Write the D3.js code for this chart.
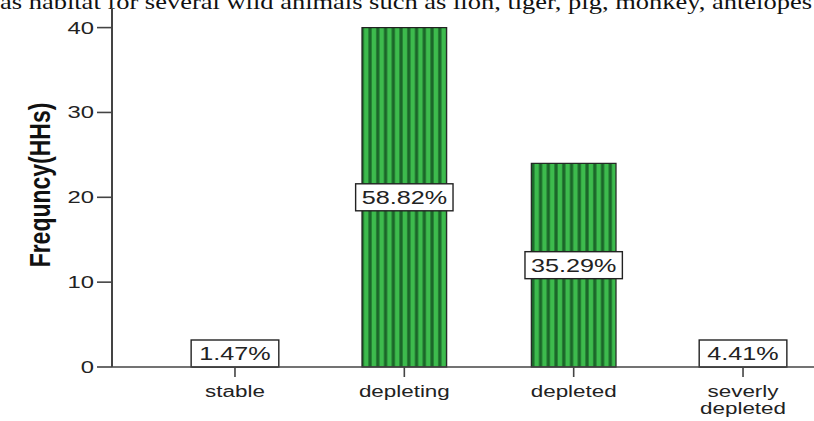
<!DOCTYPE html>
<html><head><meta charset="utf-8">
<script src="https://cdn.jsdelivr.net/npm/d3@7"></script>
<style>body{margin:0;background:#fff}svg{display:block}</style>
</head><body>
<script>
const categories = ["stable", "depleting", "depleted", "severly depleted"];
const counts = [1, 40, 24, 3];
const percentLabels = ["1.47%", "58.82%", "35.29%", "4.41%"];
const yTicks = [0, 10, 20, 30, 40];
const yTitle = "Frequncy(HHs)";
const topText = "as habitat for several wild animals such as lion, tiger, pig, monkey, antelopes";

const W = 814, H = 421, SX = 1.4;
const svg = d3.select("body").append("svg").attr("width", W).attr("height", H);
const FONT = "'Liberation Sans', Arial, sans-serif";

// pattern
const defs = svg.append("defs");
const pat = defs.append("pattern").attr("id", "stripes").attr("patternUnits", "userSpaceOnUse")
  .attr("width", 7.75).attr("height", 10);
pat.append("rect").attr("width", 7.75).attr("height", 10).attr("fill", "#3dbb4d");
pat.append("rect").attr("x", 4.2).attr("width", 3.2).attr("height", 10).attr("fill", "#1b6629");

// top text from document (cut off at top as in the reference)
svg.append("text").attr("x", 0).attr("y", 8.5)
  .attr("font-family", "'Liberation Serif', 'Times New Roman', serif").attr("font-size", 22)
  .attr("textLength", 812).attr("lengthAdjust", "spacingAndGlyphs")
  .attr("fill", "#111").text(topText);

const y = d3.scaleLinear().domain([0, 40]).range([367, 27.6]);
const x = d3.scaleBand().domain(categories).range([150.3, 827.7]).paddingInner(0.5).paddingOuter(0.25);

// bars
svg.selectAll("rect.bar").data(categories).enter().append("rect").attr("class", "bar")
  .attr("x", d => x(d)).attr("width", x.bandwidth())
  .attr("y", (d, i) => y(counts[i])).attr("height", (d, i) => y(0) - y(counts[i]))
  .attr("fill", "url(#stripes)").attr("stroke", "#222").attr("stroke-width", 1.2);

function stretchedText(g, tx, ty, txt, size, anchor, weight) {
  const gg = g.append("g").attr("transform", `translate(${tx},${ty}) scale(${SX},1)`);
  gg.append("text").attr("text-anchor", anchor).attr("font-family", FONT)
    .attr("font-size", size).attr("font-weight", weight || "normal").attr("fill", "#222").text(txt);
  return gg;
}

// percent labels
const boxH = 27;
categories.forEach((c, i) => {
  const cx = x(c) + x.bandwidth() / 2;
  let cy = y(counts[i] / 2);
  cy = Math.min(cy, y(0) - boxH / 2);
  const g = svg.append("g");
  const tg = stretchedText(g, cx, cy + 6.5, percentLabels[i], 18, "middle");
  const bb = tg.node().getBBox();
  const tw = Math.max(bb.width * SX + 12, x.bandwidth() + 3);
  g.insert("rect", ":first-child").attr("x", cx - tw / 2).attr("width", tw)
    .attr("y", cy - boxH / 2).attr("height", boxH)
    .attr("fill", "#fff").attr("stroke", "#222").attr("stroke-width", 1.4);
});

// axes
svg.append("line").attr("x1", 112).attr("x2", 112).attr("y1", 8).attr("y2", y(0))
  .attr("stroke", "#444").attr("stroke-width", 2);
svg.append("line").attr("x1", 112).attr("x2", W).attr("y1", y(0)).attr("y2", y(0))
  .attr("stroke", "#444").attr("stroke-width", 1.6);

// y ticks
yTicks.forEach(t => {
  svg.append("line").attr("x1", 97).attr("x2", 112).attr("y1", y(t)).attr("y2", y(t))
    .attr("stroke", "#444").attr("stroke-width", 1.6);
  stretchedText(svg, 94, y(t) + 6, String(t), 17, "end");
});

// x ticks
categories.forEach(c => {
  const cx = x(c) + x.bandwidth() / 2;
  svg.append("line").attr("x1", cx).attr("x2", cx).attr("y1", y(0)).attr("y2", y(0) + 10)
    .attr("stroke", "#444").attr("stroke-width", 1.6);
  const words = c === "severly depleted" ? ["severly", "depleted"] : [c];
  words.forEach((w, k) => stretchedText(svg, cx, 397 + k * 17, w, 16, "middle"));
});

// y title
svg.append("g").attr("transform", `translate(50,${185}) scale(1.3,1) rotate(-90)`)
  .append("text").attr("text-anchor", "middle").attr("font-family", FONT)
  .attr("font-size", 23).attr("font-weight", "bold").attr("fill", "#111").text(yTitle);
</script>
</body></html>
